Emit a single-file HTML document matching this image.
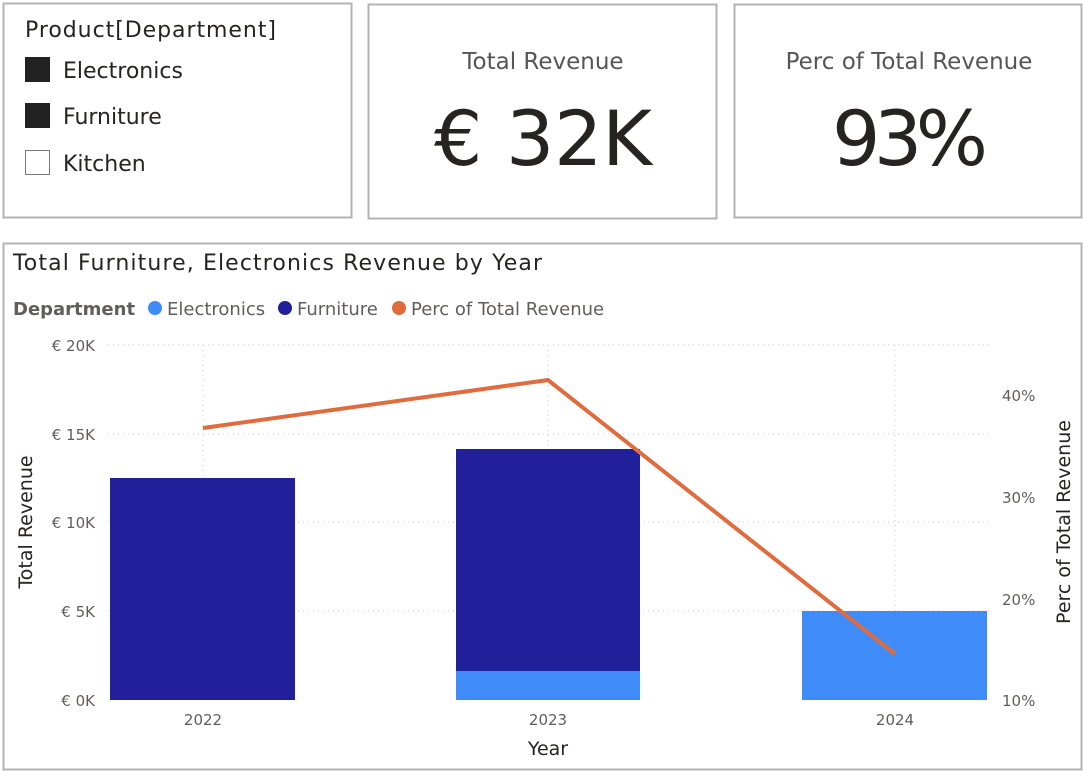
<!DOCTYPE html><html><head><style>
body{margin:0;width:1084px;height:772px;background:#fff;overflow:hidden;font-family:"DejaVu Sans","Liberation Sans",sans-serif}
</style></head><body>
<svg width="1084" height="772" xmlns="http://www.w3.org/2000/svg" font-family="DejaVu Sans, Liberation Sans, sans-serif">
<rect x="3.5" y="3.5" width="348" height="214" fill="none" stroke="#b3b3b3" stroke-width="2"/>
<rect x="368.5" y="4.5" width="348" height="214" fill="none" stroke="#b3b3b3" stroke-width="2"/>
<rect x="734.5" y="4.5" width="347" height="213" fill="none" stroke="#b3b3b3" stroke-width="2"/>
<rect x="3.5" y="243.5" width="1078" height="526" fill="none" stroke="#b3b3b3" stroke-width="2"/>
<text x="25" y="37" font-size="22" fill="#252423" textLength="251">Product[Department]</text>
<rect x="25" y="57" width="25" height="25" fill="#222"/><text x="63" y="78" font-size="22" fill="#252423">Electronics</text>
<rect x="25" y="103" width="25" height="25" fill="#222"/><text x="63" y="124" font-size="22" fill="#252423">Furniture</text>
<rect x="25.5" y="150.5" width="24" height="24" fill="#fff" stroke="#777"/><text x="63" y="171" font-size="22" fill="#252423">Kitchen</text>
<text x="543" y="69" font-size="23" fill="#555" text-anchor="middle">Total Revenue</text>
<text x="543" y="165" font-size="76" fill="#252423" text-anchor="middle" textLength="218">€ 32K</text>
<text x="909" y="69" font-size="23" fill="#555" text-anchor="middle">Perc of Total Revenue</text>
<text x="910" y="165" font-size="76" fill="#252423" text-anchor="middle" textLength="156">93%</text>
<text x="13" y="270" font-size="22" fill="#252423" textLength="529">Total Furniture, Electronics Revenue by Year</text>
<text x="13" y="315" font-size="18" font-weight="bold" fill="#605e5c">Department</text>
<circle cx="155" cy="308" r="7" fill="#3f8cf9"/><text x="167" y="315" font-size="18" fill="#605e5c">Electronics</text>
<circle cx="285" cy="308" r="7" fill="#211f9a"/><text x="297" y="315" font-size="18" fill="#605e5c">Furniture</text>
<circle cx="399" cy="308" r="7" fill="#e06c3e"/><text x="411" y="315" font-size="18" fill="#605e5c">Perc of Total Revenue</text>
<g stroke="#c8c8c8" stroke-dasharray="1,4" stroke-width="1">
<line x1="108" x2="990" y1="345" y2="345"/><line x1="108" x2="990" y1="434" y2="434"/><line x1="108" x2="990" y1="522" y2="522"/><line x1="108" x2="990" y1="611" y2="611"/>
<line x1="203" x2="203" y1="345" y2="700"/><line x1="548" x2="548" y1="345" y2="700"/><line x1="895" x2="895" y1="345" y2="700"/>
</g>
<g font-size="15" fill="#605e5c" text-anchor="end">
<text x="95" y="351">€ 20K</text><text x="95" y="440">€ 15K</text><text x="95" y="528">€ 10K</text><text x="95" y="617">€ 5K</text><text x="95" y="706">€ 0K</text>
</g>
<g font-size="15" fill="#605e5c">
<text x="1002" y="401">40%</text><text x="1002" y="503">30%</text><text x="1002" y="605">20%</text><text x="1002" y="706">10%</text>
</g>
<rect x="110" y="478" width="185" height="222" fill="#211f9a"/>
<rect x="456" y="449" width="184" height="222" fill="#211f9a"/>
<rect x="456" y="671" width="184" height="29" fill="#3f8cf9"/>
<rect x="802" y="611" width="185" height="89" fill="#3f8cf9"/>
<polyline points="203,428 548,380 895,654" fill="none" stroke="#e06c3e" stroke-width="4"/>
<g font-size="15" fill="#605e5c" text-anchor="middle">
<text x="203" y="725">2022</text><text x="548" y="725">2023</text><text x="895" y="725">2024</text></g>
<text x="548" y="755" font-size="19" fill="#252423" text-anchor="middle">Year</text>
<text transform="translate(32,522) rotate(-90)" font-size="19" fill="#252423" text-anchor="middle">Total Revenue</text>
<text transform="translate(1070,522) rotate(-90)" font-size="19" fill="#252423" text-anchor="middle">Perc of Total Revenue</text>
</svg></body></html>
